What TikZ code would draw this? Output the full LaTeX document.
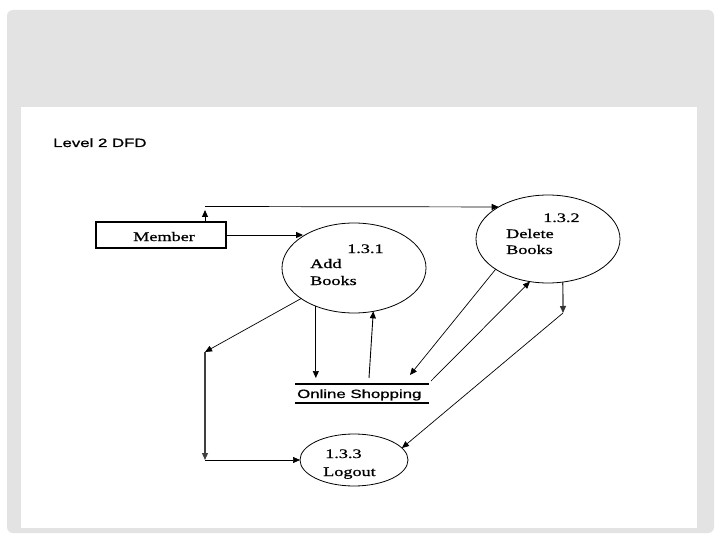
\documentclass[tikz,border=0pt]{standalone}
\usepackage{fontspec}
\setmainfont[FakeBold=0.6]{Liberation Serif}
\newfontfamily\lsans[FakeBold=0.8]{Liberation Sans}
\usetikzlibrary{shapes.geometric,arrows.meta,calc}
\newcommand{\hs}[1]{\scalebox{1.4}[1]{#1}}
\begin{document}
\begin{tikzpicture}[x=1pt,y=-1pt,
  flow/.style={draw=black, line width=0.7pt, -{Triangle[length=7pt,width=6pt]}},
  proc/.style={draw=black, ellipse, line width=0.8pt, inner sep=0pt, outer sep=0pt},
  stxt/.style={font=\fontsize{13}{15}\selectfont, inner sep=0pt, anchor=base west},
  sans/.style={font=\lsans\fontsize{12}{14}\selectfont, inner sep=0pt, anchor=base west}]
\useasboundingbox (0,0) rectangle (720,540);
\fill[white] (0,0) rectangle (720,540);
\fill[gray!22, rounded corners=6pt] (7,10) rectangle (714,533);
\fill[white] (21,107) rectangle (697,528);

\node[sans] (title) at (53,147) {\hs{Level 2 DFD}};

\node[draw, line width=1.1pt, minimum width=130pt, minimum height=26pt, inner sep=0pt, outer sep=0pt] (member) at (161,235) {};
\node[stxt] (memtxt) at (133,241) {\hs{Member}};

\node[proc, minimum width=144pt, minimum height=90pt] (add) at (354,268) {};
\node[stxt] (t131) at (347,253) {\hs{1.3.1}};
\node[stxt] (tadd) at (310,268) {\hs{Add}};
\node[stxt] (tab) at (310,285) {\hs{Books}};

\node[proc, minimum width=144pt, minimum height=88pt] (del) at (548,239) {};
\node[stxt] (t132) at (543,222) {\hs{1.3.2}};
\node[stxt] (tdel) at (506,238) {\hs{Delete}};
\node[stxt] (tdb) at (506,254) {\hs{Books}};

\node[proc, minimum width=108pt, minimum height=52pt] (logout) at (354,460) {};
\node[stxt] (t133) at (325,458) {\hs{1.3.3}};
\node[stxt] (tlog) at (323,476) {\hs{Logout}};

\node[inner sep=0pt, outer sep=0pt, minimum width=134pt, minimum height=19pt] (store) at (362,393.5) {};
\node[sans] (storetxt) at (297,398) {\hs{Online Shopping}};
\draw[line width=1.4pt] (store.north west) -- (store.north east) (store.south west) -- (store.south east);

\coordinate (uptip) at (205,210);
\coordinate (c1) at (205,206.5);
\coordinate (L1) at (205,352);
\coordinate (L2) at (205,460);
\coordinate (d2) at (563,313);

\draw[flow, line width=1pt] (member.east) -- (member.east -| add.148);
\draw[flow, line width=1pt] (member.north -| uptip) -- (uptip);
\draw[flow] (c1) -- (del.147);
\draw[flow] (add.210) -- (L1);
\draw[flow, line width=1.2pt, draw=black!75] (L1) -- (L2);
\draw[flow] (L2) -- (logout.west);
\draw[flow] (add.225) -- ($(add.225 |- store.north)+(0,-6)$);
\coordinate (s1) at ($(store.north)+(7,-6)$);
\draw[flow, line width=0.9pt] (s1) -- (add.294);
\draw[flow] (del.210) -- ($(store.north)+(48,-9)$);
\draw[flow] ($(store.north east)+(2,-3)$) -- (del.247);
\draw[flow, line width=1.2pt, draw=black!80] (del.289) -- (d2);
\draw[flow] (d2) -- (logout.14);
\end{tikzpicture}
\end{document}
